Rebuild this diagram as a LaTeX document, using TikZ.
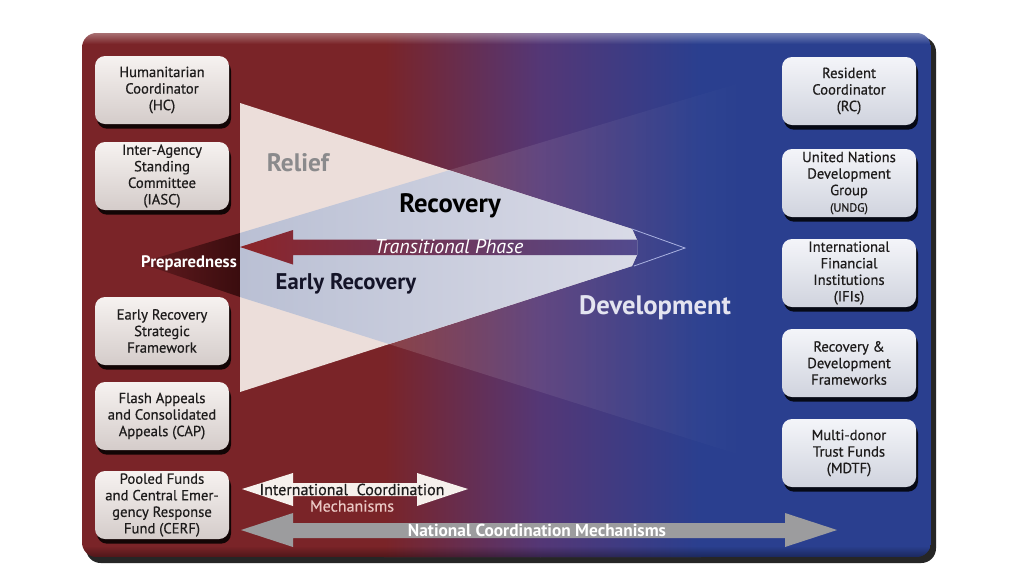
\documentclass[tikz,border=0pt]{standalone}
\usepackage{fontspec}
\setmainfont{PT Sans}
\newfontfamily\boxfont{PT Sans}[FakeBold=0.5]
\usetikzlibrary{shadows,fadings}
\definecolor{panelred}{RGB}{122,36,40}
\definecolor{panelpurple}{RGB}{84,55,118}
\definecolor{panelblue}{RGB}{42,63,143}
\definecolor{reliefpink}{RGB}{236,222,218}
\definecolor{overlapleft}{RGB}{186,192,212}
\definecolor{overlapright}{RGB}{226,226,236}
\definecolor{prepleft}{RGB}{100,28,32}
\definecolor{prepright}{RGB}{58,12,14}
\definecolor{tipline}{RGB}{170,178,225}
\definecolor{transleft}{RGB}{140,36,40}
\definecolor{transmid}{RGB}{196,122,122}
\definecolor{transright}{RGB}{82,74,142}
\definecolor{relieftext}{RGB}{138,138,140}
\definecolor{earlytext}{RGB}{20,20,40}
\definecolor{devtext}{RGB}{228,228,240}
\definecolor{boxtext}{RGB}{30,28,28}
\definecolor{lefttop}{RGB}{246,242,240}
\definecolor{leftbottom}{RGB}{212,204,202}
\definecolor{righttop}{RGB}{244,245,249}
\definecolor{rightbottom}{RGB}{208,211,222}
\definecolor{intlfill}{RGB}{246,240,236}
\definecolor{mechtext}{RGB}{234,200,196}
\definecolor{natgrey}{RGB}{156,156,158}
\tikzset{
    orgbox/.style={
        rounded corners=7.5pt,
        minimum width=100.5pt,
        minimum height=51pt,
        inner sep=1pt,
        align=center,
        text=boxtext,
        font=\boxfont\fontsize{11}{12.4}\selectfont,
        drop shadow={shadow xshift=1.5pt, shadow yshift=-3.5pt, opacity=0.85, fill=black}
    },
    leftbox/.style={orgbox, top color=lefttop, bottom color=leftbottom},
    rightbox/.style={orgbox, top color=righttop, bottom color=rightbottom},
    stagelabel/.style={inner sep=0pt},
    arrowtext/.style={inner sep=0pt, font=\boxfont\fontsize{12}{13}\selectfont}
}
\begin{document}
\begin{tikzpicture}[x=0.75pt, y=-0.75pt]
    \useasboundingbox[fill=white] (0,0) rectangle (1024,576);
    % panel
    \fill[black!85, rounded corners=11pt] (86,37) rectangle (936,563);
    \begin{scope}
        \clip[rounded corners=11pt] (82,33) rectangle (931,557);
        \fill[panelred] (82,33) rectangle (385,557);
        \shade[left color=panelred, right color=panelpurple] (384,33) rectangle (541,557);
        \shade[left color=panelpurple, right color=panelblue] (540,33) rectangle (701,557);
        \fill[panelblue] (700,33) rectangle (931,557);
        \fill[white, fill opacity=0.35, path fading=south] (82,33) rectangle (931,44);
        \fill[black, fill opacity=0.35, path fading=north] (82,546) rectangle (931,557);
    \end{scope}
    % stages
    \fill[white, fill opacity=0.2, path fading=east] (240,233) -- (750,80) -- (750,458) -- (240,297) -- cycle;
    \fill[reliefpink] (240,103) -- (632,229) -- (637,240) -- (637,255) -- (632,266) -- (240,392) -- cycle;
    \begin{scope}
        \clip (240,103) -- (632,229) -- (637,240) -- (637,255) -- (632,266) -- (240,392) -- cycle;
        \shade[left color=overlapleft, right color=overlapright] (240,233) -- (750,80) -- (750,458) -- (240,297) -- cycle;
    \end{scope}
    \shade[left color=prepleft, right color=prepright] (140,263) -- (240,233) -- (240,297) -- cycle;
    \draw[tipline, line width=0.6pt] (632,229) -- (685,248) -- (634,266);
    \shade[left color=transleft, middle color=transmid, right color=transright]
        (240,247) -- (293,230) -- (293,239.5) -- (637,239.5) -- (637,255) -- (293,255) -- (293,264.5) -- cycle;
    \node[stagelabel, text=white, font=\itshape\fontsize{15}{16}\selectfont] (transition) at (449,247) {Transitional Phase};
    \node[stagelabel, text=relieftext, font=\bfseries\fontsize{19}{20}\selectfont] (relief) at (298,163) {Relief};
    \node[stagelabel, text=black, font=\bfseries\fontsize{20}{21}\selectfont] (recovery) at (450,206) {Recovery};
    \node[stagelabel, text=earlytext, font=\bfseries\fontsize{17}{18}\selectfont] (early) at (346,284) {Early Recovery};
    \node[stagelabel, text=devtext, font=\bfseries\fontsize{20}{21}\selectfont] (development) at (655,308) {Development};
    \node[stagelabel, text=white, font=\bfseries\fontsize{12.5}{13}\selectfont] (preparedness) at (189,263) {Preparedness};
    % boxes
    \foreach \name/\y/\label in {hc/90/{Humanitarian\\Coordinator\\(HC)},
                                 iasc/176/{Inter-Agency\\Standing\\Committee\\(IASC)},
                                 ersf/331/{Early Recovery\\Strategic\\Framework},
                                 cap/416/{Flash Appeals\\and Consolidated\\Appeals (CAP)},
                                 cerf/505/{Pooled Funds\\and Central Emer-\\gency Response\\Fund (CERF)}}
        \node[leftbox] (\name) at (162,\y) {\label};
    \foreach \name/\y/\label in {rc/91/{Resident\\Coordinator\\(RC)},
                                 undg/183/{United Nations\\Development\\Group\\{\fontsize{9}{10}\selectfont(UNDG)}},
                                 ifi/273/{International\\Financial\\Institutions\\(IFIs)},
                                 rdf/363/{Recovery \&\\Development\\Frameworks},
                                 mdtf/453/{Multi-donor\\Trust Funds\\(MDTF)}}
        \node[rightbox] (\name) at (849,\y) {\label};
    % coordination arrows
    \fill[intlfill] (242,489) -- (293,473) -- (293,483) -- (417,483) -- (417,473) -- (468,489)
        -- (417,506) -- (417,496) -- (293,496) -- (293,506) -- cycle;
    \node[arrowtext, text=boxtext] (intl) at (352,489.5) {International\ \ Coordination};
    \node[arrowtext, text=mechtext] (mech) at (352,506) {Mechanisms};
    \fill[natgrey] (241,530) -- (293,513) -- (293,523) -- (785,523) -- (785,513) -- (837,530)
        -- (785,547) -- (785,538) -- (293,538) -- (293,547) -- cycle;
    \node[stagelabel, text=white, font=\bfseries\fontsize{13}{14}\selectfont] (national) at (537,530.5) {National Coordination Mechanisms};
\end{tikzpicture}
\end{document}
